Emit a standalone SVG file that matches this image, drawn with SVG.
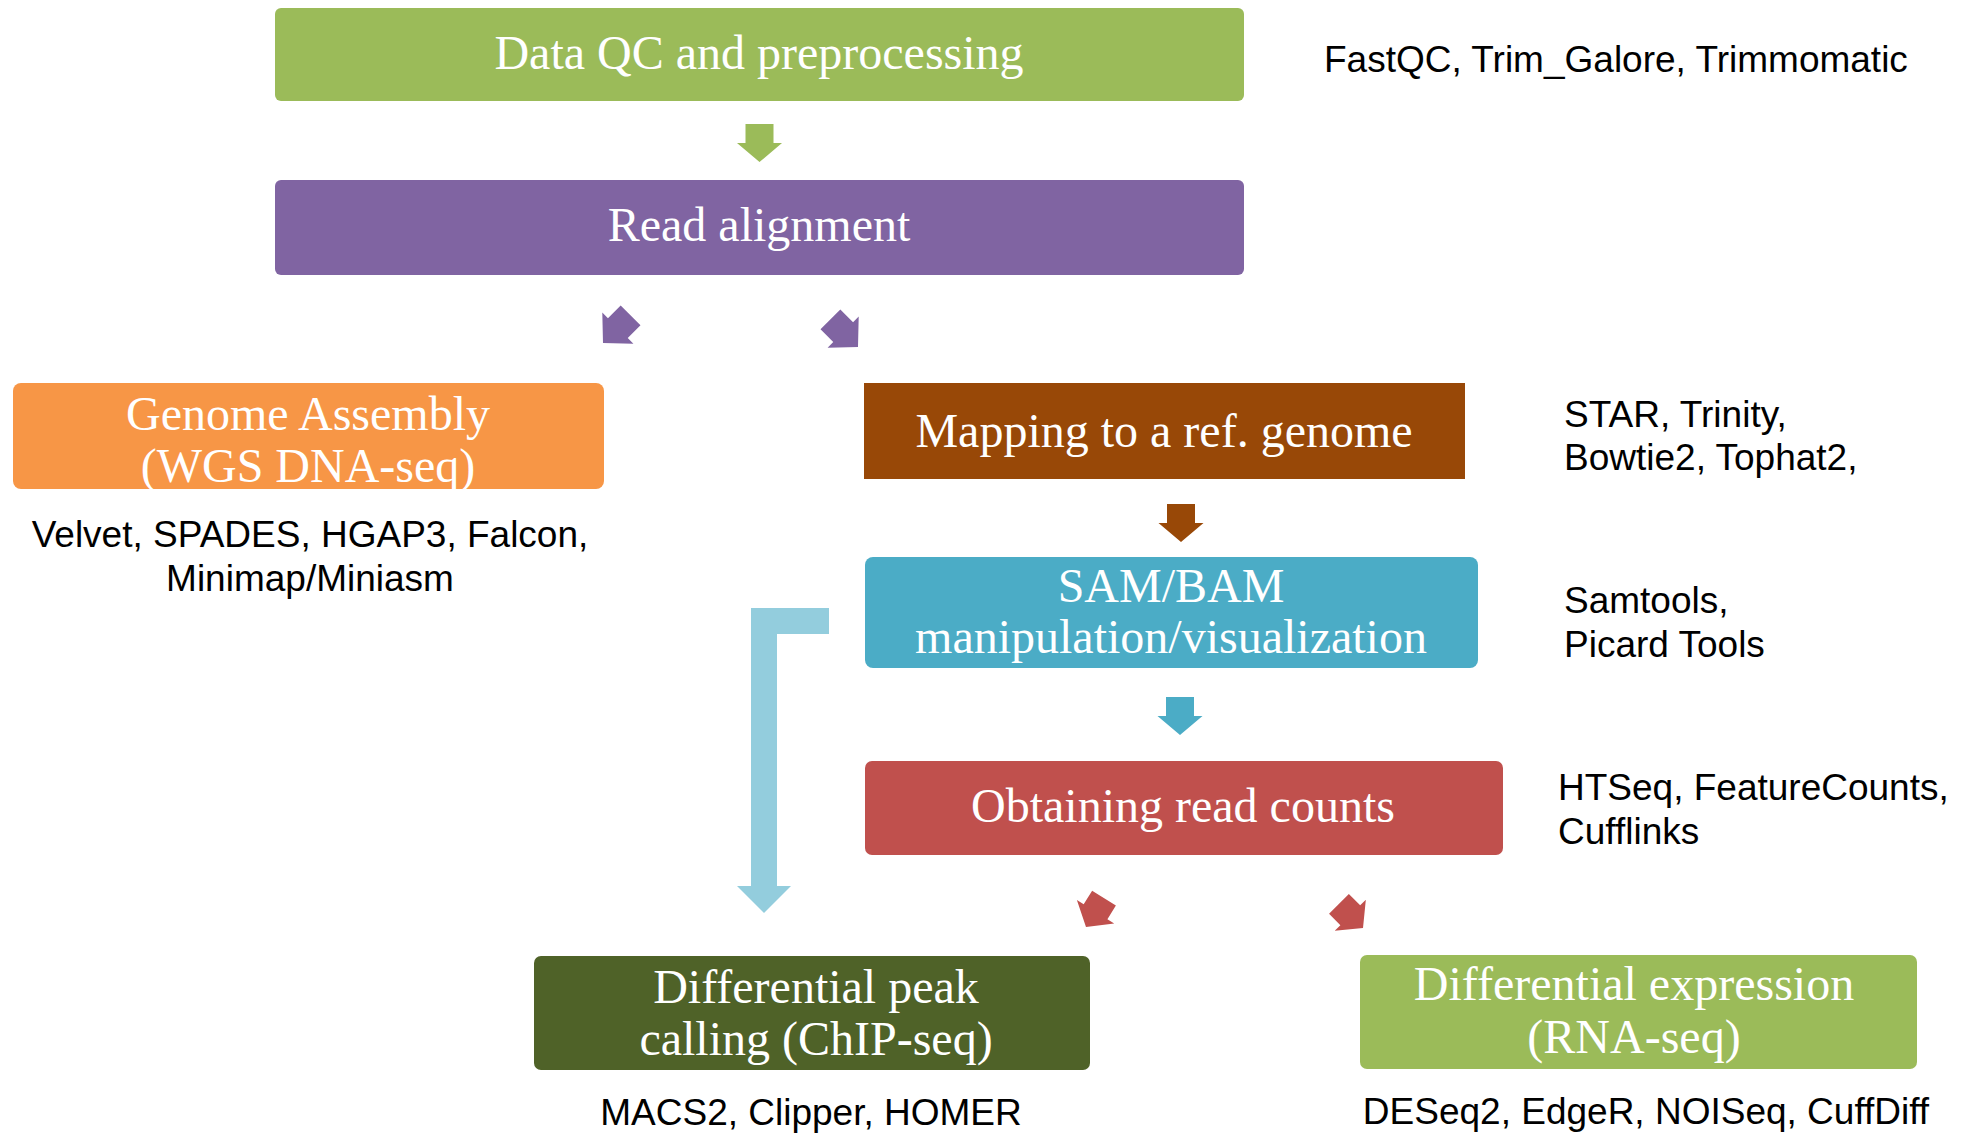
<svg xmlns="http://www.w3.org/2000/svg" width="1977" height="1135" viewBox="0 0 1977 1135">
<style>
.box text{font-family:"Liberation Serif","Times New Roman",serif;font-size:48px;fill:#fff;text-anchor:middle}
.tools{font-family:"Liberation Sans",Arial,sans-serif;font-size:37px;fill:#000}
.mid{text-anchor:middle}
</style>
<defs>
<path id="dn" d="M-14,-38 H14 V-19 H22.5 L0,0 L-22.5,-19 H-14 Z"/>
<path id="dr" d="M-14,-34 H14 V-18 H22 L0,0 L-22,-18 H-14 Z"/>
<path id="dp" d="M-14,-39 H14 V-21 H22 L0,0 L-22,-21 H-14 Z"/>
</defs>
<rect width="1977" height="1135" fill="#fff"/>

<g id="connectors">
<use href="#dn" transform="translate(759.5,162)" fill="#9BBB59"/>
<use href="#dp" transform="translate(603,343) rotate(45)" fill="#8064A2"/>
<use href="#dp" transform="translate(858,347) rotate(-45)" fill="#8064A2"/>
<use href="#dn" transform="translate(1181,542)" fill="#984807"/>
<use href="#dn" transform="translate(1180,735)" fill="#4BACC6"/>
<path d="M751,608 H829 V634 H777 V886 H791 L764,913 L737,886 H751 Z" fill="#93CDDD"/>
<use href="#dr" transform="translate(1086,927) rotate(32)" fill="#C0504D"/>
<use href="#dr" transform="translate(1363,928) rotate(-45)" fill="#C0504D"/>
</g>

<g id="qc" class="box">
<rect x="275" y="8" width="969" height="93" rx="6" fill="#9BBB59"/>
<text x="759" y="69">Data QC and preprocessing</text>
</g>
<g id="align" class="box">
<rect x="275" y="180" width="969" height="95" rx="6" fill="#8064A2"/>
<text x="759" y="241">Read alignment</text>
</g>
<g id="assembly" class="box">
<rect x="13" y="383" width="591" height="106" rx="8" fill="#F79646"/>
<text x="308" y="430">Genome Assembly</text>
<text x="308" y="482">(WGS DNA-seq)</text>
</g>
<g id="mapping" class="box">
<rect x="864" y="383" width="601" height="96" fill="#984807"/>
<text x="1164" y="447">Mapping to a ref. genome</text>
</g>
<g id="sambam" class="box">
<rect x="865" y="557" width="613" height="111" rx="8" fill="#4BACC6"/>
<text x="1171" y="602">SAM/BAM</text>
<text x="1171" y="653">manipulation/visualization</text>
</g>
<g id="counts" class="box">
<rect x="865" y="761" width="638" height="94" rx="7" fill="#C0504D"/>
<text x="1183" y="822">Obtaining read counts</text>
</g>
<g id="peak" class="box">
<rect x="534" y="956" width="556" height="114" rx="7" fill="#4F6228"/>
<text x="816" y="1003">Differential peak</text>
<text x="816" y="1055">calling (ChIP-seq)</text>
</g>
<g id="expression" class="box">
<rect x="1360" y="955" width="557" height="114" rx="7" fill="#9BBB59"/>
<text x="1634" y="1000">Differential expression</text>
<text x="1634" y="1053">(RNA-seq)</text>
</g>

<g id="tools-qc"><text class="tools" x="1324" y="72">FastQC, Trim_Galore, Trimmomatic</text></g>
<g id="tools-assembly">
<text class="tools mid" x="310" y="547">Velvet, SPADES, HGAP3, Falcon,</text>
<text class="tools mid" x="310" y="591">Minimap/Miniasm</text>
</g>
<g id="tools-mapping">
<text class="tools" x="1564" y="427">STAR, Trinity,</text>
<text class="tools" x="1564" y="470">Bowtie2, Tophat2,</text>
</g>
<g id="tools-sambam">
<text class="tools" x="1564" y="613">Samtools,</text>
<text class="tools" x="1564" y="657">Picard Tools</text>
</g>
<g id="tools-counts">
<text class="tools" x="1558" y="800">HTSeq, FeatureCounts,</text>
<text class="tools" x="1558" y="844">Cufflinks</text>
</g>
<g id="tools-peak"><text class="tools mid" x="811" y="1125">MACS2, Clipper, HOMER</text></g>
<g id="tools-expression"><text class="tools mid" x="1646" y="1124">DESeq2, EdgeR, NOISeq, CuffDiff</text></g>
</svg>
